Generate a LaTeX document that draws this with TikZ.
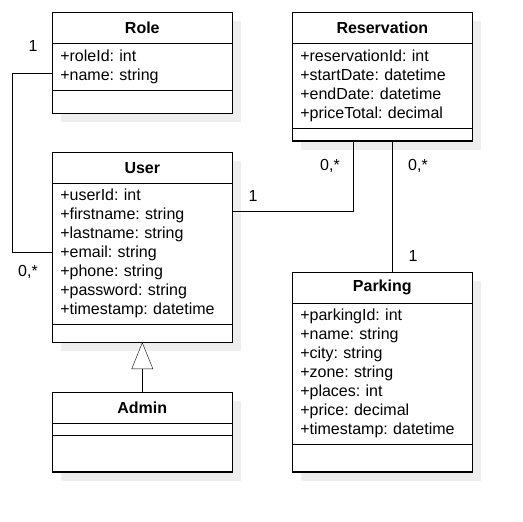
\documentclass[tikz,border=0pt]{standalone}
\usepackage{fontspec}
\setmainfont{Liberation Sans}
\usepackage{tikz}
\usetikzlibrary{arrows.meta}
\pgfdeclarelayer{background}
\pgfsetlayers{background,main}
\definecolor{shadowgray}{HTML}{EEEEEE}
\frenchspacing

\begin{document}
\begin{tikzpicture}[
    x=1pt, y=-1pt,
    line width=1.2pt,
    classname/.style = {
      draw,
      fill = white,
      anchor = north,
      minimum width = 180pt,
      minimum height = 31pt,
      inner sep = 0pt,
      outer sep = 0pt,
      font = \fontsize{16}{19}\selectfont\bfseries
    },
    classpart/.style = {
      draw,
      fill = white,
      anchor = north,
      text width = 164pt,
      inner xsep = 8pt,
      inner ysep = 0pt,
      outer sep = 0pt,
      align = left,
      font = \fontsize{16}{19}\selectfont
    },
    mult/.style = {inner sep = 0pt, font = \fontsize{16}{19}\selectfont}
  ]

  \useasboundingbox (0,0) rectangle (523,522);

  % Role
  \node[classname] (role) at (142.3,12.3) {Role};
  \node[classpart, minimum height=47.4pt] (role-a) at (role.south) {+roleId: int\\+name: string};
  \node[classpart, minimum height=22.6pt] (role-m) at (role-a.south) {};

  % User
  \node[classname] (user) at (142.3,152.3) {User};
  \node[classpart, minimum height=141pt] (user-a) at (user.south) {+userId: int\\+firstname: string\\+lastname: string\\+email: string\\+phone: string\\+password: string\\+timestamp: datetime};
  \node[classpart, minimum height=18pt] (user-m) at (user-a.south) {};

  % Admin
  \node[classname] (admin) at (142.3,392.3) {Admin};
  \node[classpart, minimum height=12.3pt] (admin-a) at (admin.south) {};
  \node[classpart, minimum height=36.3pt] (admin-m) at (admin-a.south) {};

  % Reservation
  \node[classname] (res) at (382.3,12.3) {Reservation};
  \node[classpart, minimum height=85pt] (res-a) at (res.south) {+reservationId: int\\+startDate: datetime\\+endDate: datetime\\+priceTotal: decimal};
  \node[classpart, minimum height=12.7pt] (res-m) at (res-a.south) {};

  % Parking
  \node[classname] (park) at (382.3,272.3) {Parking};
  \node[classpart, minimum height=141pt] (park-a) at (park.south) {+parkingId: int\\+name: string\\+city: string\\+zone: string\\+places: int\\+price: decimal\\+timestamp: datetime};
  \node[classpart, minimum height=27.7pt] (park-m) at (park-a.south) {};

  % shadows
  \begin{pgfonlayer}{background}
    \foreach \c in {role,user,admin,res,park}
      \fill[shadowgray] ([shift={(8.5,9)}]\c.north west) rectangle ([shift={(8.5,9)}]\c-m.south east);
  \end{pgfonlayer}

  % associations
  \draw (role-a.west |- 0,72.7) -| (12.3,252.3) -- (user-a.west |- 0,252.3);
  \draw (user-a.east |- 0,210.7) -| (res-m.south -| 352.7,0);
  \draw (res-m.south -| 392.3,0) -- (park.north -| 392.3,0);

  % inheritance
  \draw[-{Triangle[length=26.7pt, width=21.6pt, fill=white]}] (admin.north) -- (user-m.south);

  % multiplicities
  \node[mult] (role-mult) at (33,46) {1};
  \node[mult] (user-mult) at (28,272) {0,*};
  \node[mult] (user-res-mult) at (253,196) {1};
  \node[mult] (res-user-mult) at (330,166) {0,*};
  \node[mult] (res-park-mult) at (418,166) {0,*};
  \node[mult] (park-mult) at (413,256) {1};

\end{tikzpicture}
\end{document}
